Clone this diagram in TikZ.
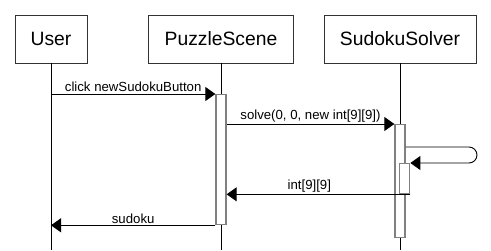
\documentclass[tikz,border=0pt]{standalone}
\usepackage{fontspec}
\setmainfont{Liberation Sans}
\usetikzlibrary{arrows.meta}

\tikzset{
  actor/.style={draw=black!80, line width=0.9pt, minimum height=48pt, font=\fontsize{19.3}{21}\selectfont},
  bar/.style={draw=gray, line width=1.3pt, fill=white, minimum width=10pt, anchor=north, inner sep=0pt},
  msg/.style={line width=0.9pt, -{Triangle[length=10pt,width=14pt]}},
  lbl/.style={font=\fontsize{13.2}{14}\selectfont, inner sep=1.5pt}
}

\begin{document}
\begin{tikzpicture}[x=1pt, y=-1pt]
  \useasboundingbox (0,0) rectangle (491,250);
  % heads
  \node[actor, minimum width=72pt] (user) at (51,39) {User};
  \node[actor, minimum width=145pt] (scene) at (221,39) {PuzzleScene};
  \node[actor, minimum width=152pt] (solver) at (400,39) {SudokuSolver};
  % lifelines
  \coordinate (userend) at (51,250);
  \coordinate (sceneend) at (221,250);
  \coordinate (solverend) at (400,250);
  \draw[line width=0.9pt] (user.south) -- (userend);
  \draw[line width=0.9pt] (scene.south) -- (sceneend);
  \draw[line width=0.9pt] (solver.south) -- (solverend);
  % activations
  \node[bar, minimum height=130pt] (sceneact) at (221,94) {};
  \node[bar, minimum height=113pt] (solveract) at (400,124) {};
  \node[bar, minimum height=30pt, minimum width=10.5pt] (inneract) at (404.5,163) {};
  % messages
  \draw[msg] (user |- sceneact.north) -- (sceneact.north west)
    node[lbl, midway, above] {click newSudokuButton};
  \draw[msg] (sceneact.east |- solveract.north) -- (solveract.north west)
    node[lbl, midway, above] {solve(0, 0, new int[9][9])};
  \coordinate (loopout) at (solveract.east |- 0,147);
  \coordinate (loopend) at (477,147);
  \draw[msg, rounded corners=8pt] (loopout) -- (loopend) -- (loopend |- inneract.north) -- (inneract.north east);
  \draw[msg] (inneract.south east) -- (sceneact.east |- inneract.south)
    node[lbl, pos=0.55, above] {int[9][9]};
  \draw[msg] (sceneact.south west) -- (user |- sceneact.south)
    node[lbl, midway, above] {sudoku};
\end{tikzpicture}
\end{document}
